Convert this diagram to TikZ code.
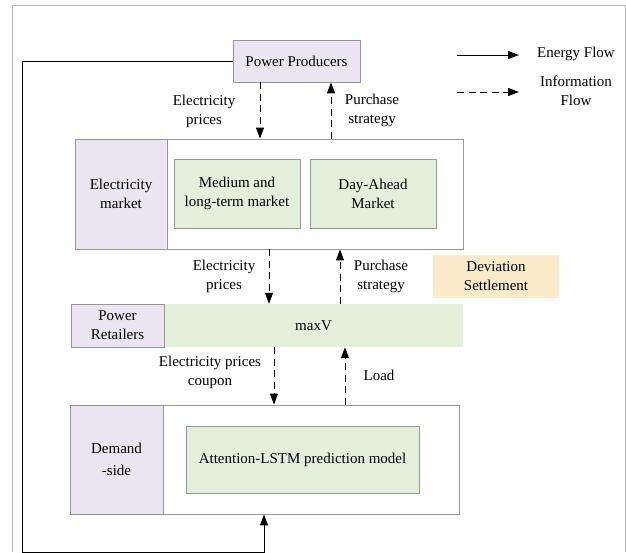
\documentclass[tikz,border=0pt]{standalone}
\usepackage{fontspec}
\setmainfont{Liberation Serif}
\usetikzlibrary{arrows.meta}
\definecolor{lav}{RGB}{234,229,240}
\definecolor{grn}{RGB}{227,239,219}
\definecolor{org}{RGB}{252,235,203}
\definecolor{edge}{RGB}{150,150,150}
\begin{document}
\begin{tikzpicture}[x=1pt,y=-1pt,font=\fontsize{15}{19}\selectfont,
  box/.style={draw=edge,line width=0.9pt,inner sep=0pt,align=center},
  flat/.style={inner sep=0pt,align=center},
  energy/.style={-{Triangle[length=11pt,width=8pt]},line width=1pt},
  info/.style={energy,dash pattern=on 7pt off 4.5pt}]
  \useasboundingbox (0,0) rectangle (626,552);
  \draw[edge!70,line width=0.9pt] (12,552) -- (12,5) -- (625,5) -- (625,552);
  % boxes
  \node[box,fill=lav,minimum width=127pt,minimum height=42pt] (prod) at (296.5,61) {Power Producers};
  \node[box,minimum width=388pt,minimum height=110pt] (mkt) at (269,194) {};
  \node[box,fill=lav,anchor=west,minimum width=92pt,minimum height=110pt] (mktl) at (mkt.west) {Electricity\\market};
  \node[box,fill=grn,minimum width=126pt,minimum height=69pt] (mid) at (237,193.5) {Medium and\\long-term market};
  \node[box,fill=grn,minimum width=126pt,minimum height=69pt] (dam) at (373,193.5) {Day-Ahead\\Market};
  \node[flat,fill=org,minimum width=126pt,minimum height=43pt] (dev) at (496,276.5) {Deviation\\Settlement};
  \node[flat,fill=grn,minimum width=299pt,minimum height=43pt] (maxv) at (313.5,325.5) {maxV};
  \node[box,fill=lav,minimum width=93pt,minimum height=43pt] (ret) at (117.5,325.5) {Power\\Retailers};
  \node[box,minimum width=389pt,minimum height=109pt] (dem) at (264.5,459.5) {};
  \node[box,fill=lav,anchor=west,minimum width=93pt,minimum height=109pt] (deml) at (dem.west) {Demand\\[3pt]-side};
  \node[box,fill=grn,minimum width=233pt,minimum height=67pt] (lstm) at (302.5,459.5) {Attention-LSTM prediction model};
  % information flow
  \draw[info] (prod.south -| 260,0) -- (mkt.north -| 260,0);
  \draw[info] (mkt.north -| 331,0) -- (prod.south -| 331,0);
  \node[align=center] (pr1) at (204,111) {Electricity\\prices};
  \node[align=center] (ps1) at (372,110) {Purchase\\strategy};
  \draw[info] (mkt.south -| 269,0) -- (maxv.north -| 269,0);
  \draw[info] (maxv.north -| 340,0) -- (mkt.south -| 340,0);
  \node[align=center] (pr2) at (224,276) {Electricity\\prices};
  \node[align=center] (ps2) at (381,276.5) {Purchase\\strategy};
  \draw[info] (maxv.south -| 274,0) -- (dem.north -| 274,0);
  \draw[info] (dem.north -| 345,0) -- (maxv.south -| 345,0);
  \node[align=center] (pr3) at (210,372.5) {Electricity prices\\coupon};
  \node (load) at (379,375) {Load};
  % energy flow
  \coordinate (c1) at (22,552);
  \coordinate (c2) at (264,552);
  \draw[energy] (prod.west) -| (c1) -- (c2) -- (c2 |- dem.south);
  % legend
  \coordinate (le1) at (457,55);
  \coordinate (le2) at (519,55);
  \coordinate (li1) at (457,92);
  \coordinate (li2) at (519,92);
  \draw[energy] (le1) -- (le2);
  \draw[info] (li1) -- (li2);
  \node (lge) at (576,54) {Energy Flow};
  \node[align=center] (lgi) at (576,91) {Information\\Flow};
\end{tikzpicture}
\end{document}
